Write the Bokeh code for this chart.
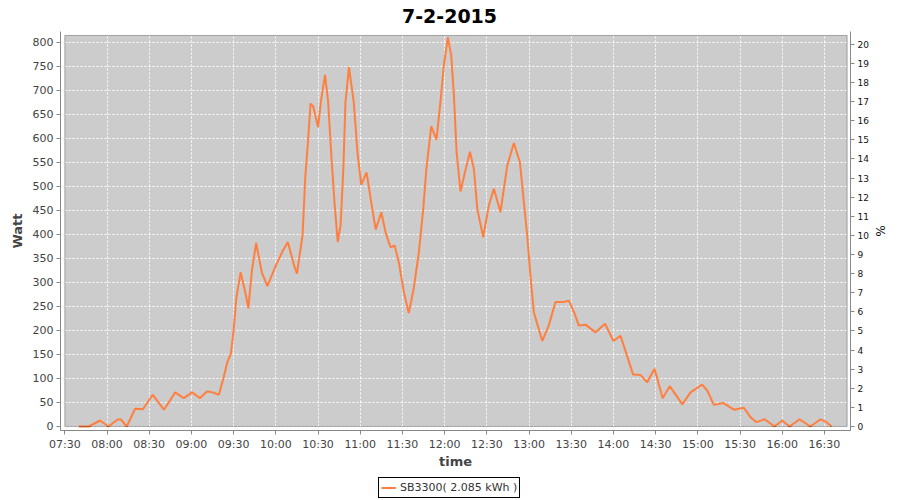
from bokeh.plotting import figure
from bokeh.layouts import column
from bokeh.models import (Range1d, LinearAxis, FixedTicker, BoxAnnotation, Label,
                          Legend, LegendItem, ColumnDataSource)
from bokeh.embed import file_html
from bokeh.resources import INLINE

# ---- data (time of day, Watt) ----
times = ["07:40", "07:47", "07:55", "08:01", "08:07:30", "08:10", "08:14", "08:20", "08:25:30",
         "08:32:30", "08:40:30", "08:48:30", "08:54:30", "09:00:30", "09:06", "09:11", "09:14",
         "09:19:30", "09:23", "09:25:30", "09:28", "09:30", "09:32", "09:35", "09:38", "09:40:30",
         "09:43", "09:46", "09:50", "09:54", "10:00", "10:04:30", "10:08:30", "10:13", "10:15",
         "10:19", "10:21", "10:23", "10:24:42", "10:26:36", "10:30", "10:32:18", "10:35",
         "10:37:12", "10:39:36", "10:41:42", "10:44", "10:46", "10:48", "10:49:30", "10:52",
         "10:55:24", "10:58", "11:00:42", "11:04:30", "11:07:48", "11:11", "11:15", "11:18",
         "11:21:30", "11:24:24", "11:27:24", "11:31", "11:34:30", "11:38", "11:41:42", "11:44:48",
         "11:47", "11:50:30", "11:54:12", "11:57", "11:59:24", "12:02:18", "12:04:42", "12:06:36",
         "12:08:30", "12:11:18", "12:14:30", "12:18", "12:20:48", "12:23:12", "12:27:24",
         "12:31:24", "12:35", "12:39:42", "12:44:30", "12:49:12", "12:53:30", "12:56:18",
         "12:58:42", "13:01", "13:03:24", "13:09:24", "13:14", "13:18:48", "13:24:42", "13:28:18",
         "13:32", "13:35:24", "13:40:12", "13:47:18", "13:54", "14:00", "14:05", "14:10", "14:14",
         "14:19:18", "14:24", "14:29:12", "14:35", "14:40", "14:49", "14:54:48", "15:03",
         "15:06:42", "15:11:24", "15:18", "15:25:36", "15:32:42", "15:37:30", "15:41:42",
         "15:47:24", "15:54:30", "16:00", "16:05:12", "16:12:18", "16:20", "16:27:12",
         "16:31:30", "16:35"]
watt = [0, 0, 12.5, 0, 14.5, 14.5, 0, 37, 36,
        66, 35, 71, 59, 71, 59, 73, 72,
        66, 103, 134, 151, 200, 269, 321, 283, 246,
        325, 382, 321, 292, 335, 363, 384, 335, 318,
        398, 522, 599, 672, 666, 623, 682, 732,
        675, 557, 467, 384, 418, 536, 675, 748,
        675, 571, 503, 529, 467, 410, 446, 404,
        373, 377, 342, 280, 236, 287, 363, 453,
        536, 625, 597, 675, 751, 810, 772, 689,
        571, 489, 530, 572, 536, 453, 394,
        460, 495, 446, 543, 590, 550, 467,
        398, 314, 238, 178, 210, 259, 259, 262,
        238, 210, 212, 196, 214, 178, 189, 144, 108,
        107, 92, 120, 59, 84, 46, 71, 87,
        75, 45, 49, 35, 39, 19, 9,
        15, 0, 12.5, 0, 15, 0, 15,
        9, 0]

x_tick_labels = ["07:30", "08:00", "08:30", "09:00", "09:30", "10:00", "10:30", "11:00",
                 "11:30", "12:00", "12:30", "13:00", "13:30", "14:00", "14:30", "15:00",
                 "15:30", "16:00", "16:30"]
watt_ticks = [0, 50, 100, 150, 200, 250, 300, 350, 400, 450, 500, 550, 600, 650, 700, 750, 800]
pct_ticks = list(range(0, 21))
series_label = "SB3300( 2.085 kWh )"
title_text = "7-2-2015"


def to_min(s):
    parts = [float(v) for v in s.split(":")]
    m = parts[0] * 60 + parts[1]
    if len(parts) > 2:
        m += parts[2] / 60.0
    return m


xs = [to_min(t) for t in times]
tick_pos = [to_min(t) for t in x_tick_labels]

FONT = "DejaVu Sans"
LINE_COLOR = "#ff7f3f"


def strip(height):
    f = figure(width=900, height=height, output_backend="svg", toolbar_location=None,
               x_range=Range1d(0, 1), y_range=Range1d(0, 1),
               min_border_left=0, min_border_right=0, min_border_top=0, min_border_bottom=0)
    f.axis.visible = False
    f.grid.visible = False
    f.outline_line_color = None
    f.background_fill_color = "white"
    f.border_fill_color = "white"
    return f


# ---- title strip (its frame is aligned with the chart frame, which starts at x=60) ----
tf = strip(31)
tf.add_layout(Label(x=389, y=16, x_units="screen", y_units="screen", text=title_text,
                    text_font=FONT, text_font_size="19px", text_font_style="bold",
                    text_color="black", text_align="center", text_baseline="alphabetic"))

# ---- main chart ----
p = figure(width=900, height=441, output_backend="svg", toolbar_location=None,
           x_range=Range1d(446.94, 1008.5), y_range=Range1d(-8.33, 822.2),
           min_border_left=60, min_border_right=50, min_border_top=0, min_border_bottom=42)
p.background_fill_color = "white"
p.border_fill_color = "white"
p.outline_line_color = None

# grey plot area (inset 4px from the axes)
plot_bg = BoxAnnotation(left=450, right=1006.1, bottom=0, top=814,
                        fill_color="#cccccc", fill_alpha=1.0, line_color=None, level="image")
p.add_layout(plot_bg)
plot_border = BoxAnnotation(left=450, right=1006.1, bottom=0, top=814,
                            fill_alpha=0.0, line_color="black", line_width=1, level="overlay")
p.add_layout(plot_border)

# grids
p.xgrid.ticker = FixedTicker(ticks=tick_pos)
p.ygrid.ticker = FixedTicker(ticks=watt_ticks)
for g in (p.xgrid[0], p.ygrid[0]):
    g.grid_line_color = "white"
    g.grid_line_dash = "2 2"
    g.grid_line_width = 1

src = ColumnDataSource(dict(x=xs, y=watt))
p.line("x", "y", source=src, line_color=LINE_COLOR, line_width=2)

# axes
ax = p.xaxis[0]
ax.ticker = FixedTicker(ticks=tick_pos)
ax.major_label_overrides = {tp: lbl for tp, lbl in zip(tick_pos, x_tick_labels)}
ax.axis_label = "time"

ay = p.yaxis[0]
ay.ticker = FixedTicker(ticks=watt_ticks)
ay.axis_label = "Watt"

p.extra_y_ranges = {"pct": Range1d(-0.209, 20.67)}
ar = LinearAxis(y_range_name="pct", ticker=FixedTicker(ticks=pct_ticks), axis_label="%")
p.add_layout(ar, "right")

for a in (ax, ay, ar):
    a.axis_line_color = "#888888"
    a.major_tick_line_color = "#888888"
    a.major_tick_out = 4
    a.major_tick_in = 0
    a.minor_tick_line_color = None
    a.major_label_text_font = FONT
    a.major_label_text_font_size = "11px"
    a.major_label_text_color = "#444444"
    a.major_label_standoff = 3
    a.axis_label_text_font = FONT
    a.axis_label_text_font_size = "13px"
    a.axis_label_text_font_style = "bold"
    a.axis_label_text_color = "#444444"
    a.axis_label_standoff = 5

ar.major_label_text_font_size = "9px"
ar.major_label_text_color = "#111111"
ar.axis_label_text_font_style = "normal"
ar.axis_label_text_font_size = "12px"
ar.axis_label_text_color = "#111111"
ar.axis_label_standoff = 1
ax.axis_label_standoff = 0

# ---- legend strip ----
lf = strip(28)
dummy = lf.line(x=[5, 6], y=[5, 6], line_color=LINE_COLOR, line_width=2)
legend = Legend(items=[LegendItem(label=series_label, renderers=[dummy])],
                location=(318, 2), orientation="horizontal",
                border_line_color="black", border_line_width=1, border_line_alpha=1.0,
                background_fill_color="white", background_fill_alpha=1.0,
                padding=2, margin=0, spacing=0, glyph_width=15, glyph_height=15,
                label_height=15, label_standoff=4,
                label_text_font=FONT, label_text_font_size="11px", label_text_color="#333333")
lf.add_layout(legend, "center")

layout = column(tf, p, lf, spacing=0)
open("out.html", "w").write(file_html(layout, INLINE))
